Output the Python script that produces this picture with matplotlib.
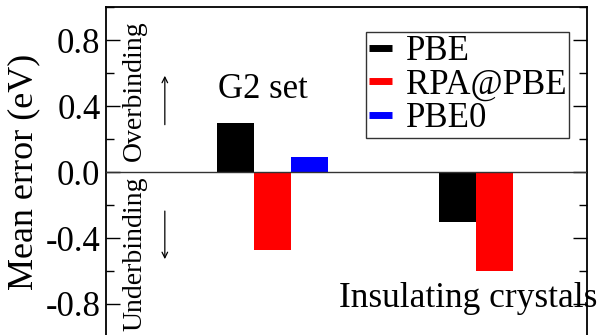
import numpy as np
import matplotlib
import matplotlib.pyplot as plt
from matplotlib.lines import Line2D

matplotlib.use('Agg')

SERIF = ['Liberation Serif', 'DejaVu Serif']
plt.rcParams['font.family'] = SERIF

# data
groups = ["G2 set", "Insulating crystals"]
methods = ["PBE", "RPA@PBE", "PBE0"]
colors = ["black", "red", "blue"]
pbe = [0.30, -0.30]
rpa_pbe = [-0.47, -0.60]
pbe0 = [0.09, np.nan]
y_ticks = [-0.8, -0.4, 0.0, 0.4, 0.8]

group_centers = np.array([4.5, 10.5])
offsets = [-1.0, 0.0, 1.0]

fig = plt.figure(figsize=(6.02, 3.35), dpi=100)
ax = fig.add_axes([106 / 602, 1 - 337 / 335, 481 / 602, 330 / 335])

for vals, off, col, name in zip([pbe, rpa_pbe, pbe0], offsets, colors, methods):
    ax.bar(group_centers + off, vals, width=1.0, color=col, label=name, zorder=2)

ax.axhline(0, color='#333333', linewidth=1.0, zorder=3)

ax.set_xlim(0, 13)
ax.set_ylim(-1.0, 1.0)
ax.set_xticks([])
ax.set_yticks(y_ticks)
ax.set_yticklabels([f"{v:.1f}" for v in y_ticks], fontsize=25, family=SERIF)
ax.set_yticks(np.arange(-1.0, 1.01, 0.2), minor=True)
ax.tick_params(axis='y', which='major', direction='in', length=10, width=1.0,
               right=True, pad=4)
ax.tick_params(axis='y', which='minor', direction='in', length=6, width=1.0,
               right=True)
for s in ax.spines.values():
    s.set_linewidth(1.3)
ax.set_ylabel("Mean error (eV)", fontsize=26, labelpad=4, family=SERIF)

# group labels
ax.text(4.24, 0.448, groups[0], fontsize=25, ha='center', va='baseline')
ax.text(9.78, -0.818, groups[1], fontsize=25.5, ha='center', va='baseline')

# binding annotations
ax.text(0.78, 0.49, "Overbinding", fontsize=20, rotation=90, ha='center', va='center')
ax.text(0.78, -0.03, "Underbinding", fontsize=20, rotation=90, ha='center', va='top')
ax.annotate("", xy=(1.59, 0.60), xytext=(1.59, 0.27),
            arrowprops=dict(arrowstyle='->', color='black', lw=0.9))
ax.annotate("", xy=(1.59, -0.545), xytext=(1.59, -0.22),
            arrowprops=dict(arrowstyle='->', color='black', lw=0.9))

handles = [Line2D([], [], color=c, lw=5, solid_capstyle='butt') for c in colors]
leg = ax.legend(handles, methods, loc='upper right', bbox_to_anchor=(569 / 602, 1 - 32 / 335),
                bbox_transform=fig.transFigure, fontsize=25, frameon=True, fancybox=False,
                edgecolor='black', handlelength=0.65, handletextpad=0.4,
                labelspacing=0.02, borderpad=0.08, borderaxespad=0)
leg.get_frame().set_linewidth(1.0)

fig.savefig("out.png", dpi=100)
